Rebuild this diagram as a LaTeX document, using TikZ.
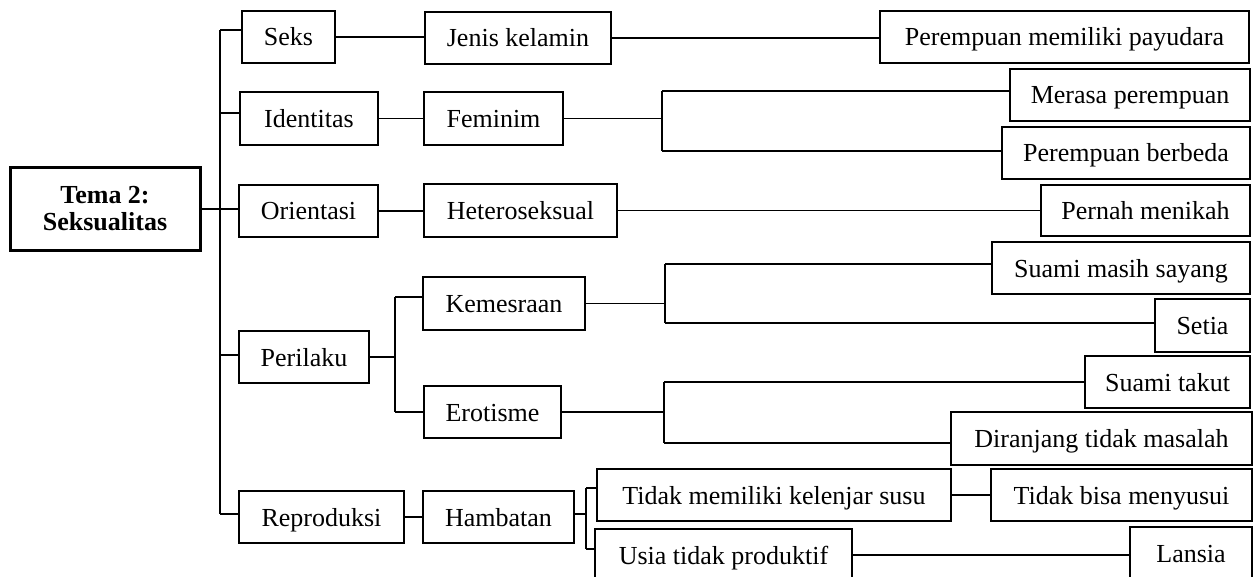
\documentclass[tikz,border=0pt]{standalone}
\usepackage{fontspec}
\setmainfont{Liberation Serif}
\tikzset{
  box/.style={draw, line width=0.7pt, inner sep=0pt, align=center, text height=9pt, text depth=0pt, font=\fontsize{13}{13.5}\selectfont},
  mainbox/.style={draw, line width=1.5pt, inner sep=0pt, align=center, font=\fontsize{13}{13.5}\selectfont\bfseries},
  link/.style={line width=0.7pt}
}
\newcommand\mybox[7][box]{\node[#1, minimum width={(#5-#3)*0.5pt}, minimum height={(#6-#4)*0.5pt}] (#2) at ({(#3+#5)/2},{(#4+#6)/2}) {#7};}
\begin{document}
\begin{tikzpicture}[x=0.5pt,y=-0.5pt]
\useasboundingbox (0,0) rectangle (1256,577);
\clip (0,0) rectangle (1256,577);
\mybox[mainbox]{main}{10}{168}{200}{250}{Tema 2:\\Seksualitas}
\mybox{seks}{242}{11}{335}{63}{Seks}
\mybox{iden}{240}{92}{378}{145}{Identitas}
\mybox{orie}{239}{185}{378}{237}{Orientasi}
\mybox{peri}{239}{331}{369}{383}{Perilaku}
\mybox{repr}{239}{491}{404}{543}{Reproduksi}
\mybox{jenis}{425}{12}{611}{64}{Jenis kelamin}
\mybox{femi}{424}{92}{563}{145}{Feminim}
\mybox{hete}{424}{184}{617}{237}{Heteroseksual}
\mybox{keme}{423}{277}{585}{330}{Kemesraan}
\mybox{erot}{424}{386}{561}{438}{Erotisme}
\mybox{hamb}{423}{491}{574}{543}{Hambatan}
\mybox{payu}{880}{11}{1249}{63}{Perempuan memiliki payudara}
\mybox{meras}{1010}{69}{1250}{121}{Merasa perempuan}
\mybox{berb}{1002}{127}{1250}{179}{Perempuan berbeda}
\mybox{pern}{1041}{185}{1250}{236}{Pernah menikah}
\mybox{suam}{992}{242}{1250}{294}{Suami masih sayang}
\mybox{seti}{1155}{299}{1250}{352}{Setia}
\mybox{takut}{1085}{356}{1250}{408}{Suami takut}
\mybox{diran}{951}{412}{1252}{465}{Diranjang tidak masalah}
\mybox{tidak}{597}{469}{951}{521}{Tidak memiliki kelenjar susu}
\mybox{menyu}{991}{469}{1252}{521}{Tidak bisa menyusui}
\mybox{usia}{595}{529}{852}{581}{Usia tidak produktif}
\mybox{lansia}{1130}{527}{1252}{579}{Lansia}
% trunk
\coordinate (ttop) at (220,30);
\coordinate (tbot) at (220,514);
\coordinate (t2) at (220,113);
\coordinate (t4) at (220,355);
\draw[link] (ttop) -- (tbot);
\draw[link] (main.east) -- (main.east -| orie.west);
\draw[link] (ttop) -- (ttop -| seks.west);
\draw[link] (t2) -- (t2 -| iden.west);
\draw[link] (t4) -- (t4 -| peri.west);
\draw[link] (tbot) -- (tbot -| repr.west);
% level 2
\draw[link] (seks.east) -- (seks.east -| jenis.west);
\draw[link] (iden.east) -- (iden.east -| femi.west);
\draw[link] (orie.east) -- (orie.east -| hete.west);
\draw[link] (repr.east) -- (repr.east -| hamb.west);
\coordinate (pk) at (395,297);
\coordinate (pe) at (395,412);
\draw[link] (peri.east) -- (peri.east -| pk);
\draw[link] (pk) -- (pe);
\draw[link] (pk) -- (pk -| keme.west);
\draw[link] (pe) -- (pe -| erot.west);
% level 3
\draw[link] (jenis.east) -- (jenis.east -| payu.west);
\draw[link] (hete.east) -- (hete.east -| pern.west);
\coordinate (fa) at (662,91);
\coordinate (fb) at (662,151);
\draw[link] (femi.east) -- (femi.east -| fa);
\draw[link] (fa) -- (fb);
\draw[link] (fa) -- (fa -| meras.west);
\draw[link] (fb) -- (fb -| berb.west);
\coordinate (ka) at (665,264);
\coordinate (kb) at (665,323);
\draw[link] (keme.east) -- (keme.east -| ka);
\draw[link] (ka) -- (kb);
\draw[link] (ka) -- (ka -| suam.west);
\draw[link] (kb) -- (kb -| seti.west);
\coordinate (ea) at (664,382);
\coordinate (eb) at (664,443);
\draw[link] (erot.east) -- (erot.east -| ea);
\draw[link] (ea) -- (eb);
\draw[link] (ea) -- (ea -| takut.west);
\draw[link] (eb) -- (eb -| diran.west);
\coordinate (ha) at (586,488);
\coordinate (hb) at (586,549);
\coordinate (hm) at (586,514);
\draw[link] (hamb.east |- hm) -- (hm);
\draw[link] (ha) -- (hb);
\draw[link] (ha) -- (ha -| tidak.west);
\draw[link] (hb) -- (hb -| usia.west);
\draw[link] (tidak.east) -- (tidak.east -| menyu.west);
\draw[link] (usia.east) -- (usia.east -| lansia.west);
\end{tikzpicture}
\end{document}
